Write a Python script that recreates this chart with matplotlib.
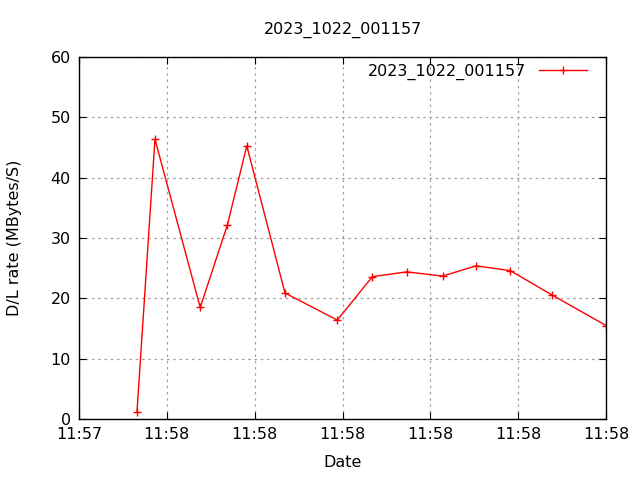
import pandas as pd
import matplotlib
matplotlib.use('Agg')
import matplotlib.pyplot as plt
import matplotlib.dates as mdates

# data
times = ['11:57:56.6', '11:57:58.65', '11:58:03.8', '11:58:06.9', '11:58:09.1',
         '11:58:13.45', '11:58:19.4', '11:58:23.4', '11:58:27.3', '11:58:31.4',
         '11:58:35.2', '11:58:39.1', '11:58:43.8', '11:58:50.0']
rate = [1.1, 46.4, 18.5, 32.2, 45.3, 20.9, 16.4, 23.6, 24.4, 23.7, 25.4, 24.6, 20.6, 15.5]
title = '2023_1022_001157'

t = pd.to_datetime(['2023-10-22 ' + s for s in times], format='mixed')

plt.rcParams['font.family'] = 'DejaVu Sans'
fig = plt.figure(figsize=(6.4, 4.8), dpi=100)
ax = fig.add_axes([0.1234, 0.127, 0.8236, 0.754])

ax.plot(t, rate, color='red', lw=1, marker='+', ms=6, mew=1, label=title)

ax.set_ylim(0, 60)
ax.set_xlim(pd.Timestamp('2023-10-22 11:57:50'), pd.Timestamp('2023-10-22 11:58:50'))
ax.xaxis.set_major_locator(mdates.SecondLocator(bysecond=range(0, 60, 10)))
ax.xaxis.set_major_formatter(mdates.DateFormatter('%H:%M'))
ax.set_yticks(range(0, 61, 10))

ax.grid(True, color='#a0a0a0', linestyle=(0, (2, 3)), lw=0.9)
ax.tick_params(direction='in', top=True, right=True, length=5, labelsize=11.5, pad=6)
for s in ax.spines.values():
    s.set_linewidth(1)

ax.set_xlabel('Date', fontsize=11.5, labelpad=9)
ax.set_ylabel('D/L rate (MBytes/S)', fontsize=11.5, labelpad=20)
ax.set_title(title, fontsize=11.5, pad=17)

ax.legend(loc='upper right', frameon=False, markerfirst=False, fontsize=11.5,
          handlelength=3.0, borderaxespad=0.0, bbox_to_anchor=(0.975, 1.0))

fig.savefig('out.png', dpi=100)
